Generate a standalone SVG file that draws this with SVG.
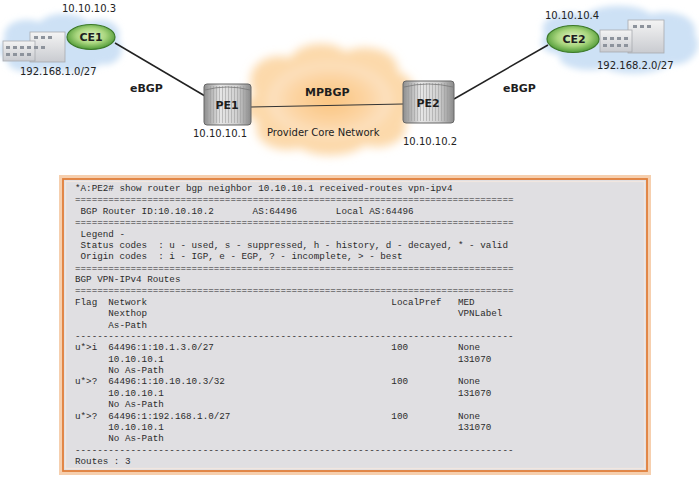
<svg xmlns="http://www.w3.org/2000/svg" width="699" height="479" viewBox="0 0 699 479">
<defs>
<style>
.lbl{font-family:"DejaVu Sans",Verdana,sans-serif;font-size:10px;fill:#222}
.bold{font-family:"DejaVu Sans",Verdana,sans-serif;font-size:11px;font-weight:bold;fill:#1e1e1e}
.term{font-family:"Liberation Mono","Courier New",monospace;font-size:9.25px;fill:#2b2b2b}
.conn{stroke:#222;stroke-width:1.5;fill:none}
.win{fill:#8d939c}
</style>
<filter id="blur" x="-20%" y="-20%" width="140%" height="140%"><feGaussianBlur stdDeviation="3"/></filter>
<filter id="blur2" x="-20%" y="-20%" width="140%" height="140%"><feGaussianBlur stdDeviation="5"/></filter>
<radialGradient id="green" cx="50%" cy="45%" r="55%">
<stop offset="0" stop-color="#e3f5c8"/><stop offset="0.55" stop-color="#a9d67e"/><stop offset="1" stop-color="#4f9a37"/>
</radialGradient>
<radialGradient id="peach" cx="50%" cy="50%" r="50%">
<stop offset="0" stop-color="#fbc47f"/><stop offset="0.6" stop-color="#fcd4a2"/><stop offset="1" stop-color="#fde3c4"/>
</radialGradient>
<linearGradient id="metal" x1="0" y1="0" x2="1" y2="0">
<stop offset="0" stop-color="#8e8e8e"/><stop offset="0.35" stop-color="#e6e6e6"/><stop offset="0.7" stop-color="#d0d0d0"/><stop offset="1" stop-color="#8a8a8a"/>
</linearGradient>
<pattern id="stripes" width="3" height="10" patternUnits="userSpaceOnUse">
<rect width="1" height="10" fill="#9b9b9b" opacity="0.55"/>
</pattern>
<linearGradient id="bld" x1="0" y1="0" x2="0" y2="1">
<stop offset="0" stop-color="#f4f4f4"/><stop offset="1" stop-color="#c9cbd0"/>
</linearGradient>
</defs>
<rect width="699" height="479" fill="#ffffff"/>

<g id="core-cloud">
<g filter="url(#blur2)">
<path fill="#fcd9ab" d="M255 95 C240 70 265 50 290 58 C300 40 335 40 345 52 C365 42 400 50 398 72 C420 78 420 110 405 120 C412 140 385 152 365 145 C350 158 315 158 300 148 C275 155 250 140 258 122 C240 115 242 100 255 95 Z"/>
<ellipse cx="330" cy="100" rx="62" ry="38" fill="url(#peach)"/>
</g>
<text class="bold" x="305" y="96">MPBGP</text>
<text class="lbl" x="267" y="136" fill="#333">Provider Core Network</text>
</g>

<g id="site1">
<g filter="url(#blur)" fill="#cde1f5">
<path d="M5 40 C0 25 20 15 40 22 C50 10 80 12 88 22 C105 15 125 25 118 40 C128 50 118 68 100 64 C90 75 60 74 50 68 C35 76 5 72 8 60 C-5 55 -2 45 5 40 Z"/>
</g>
<rect x="30" y="32" width="35" height="30" fill="url(#bld)" stroke="#a8abb0" stroke-width="0.8"/>
<rect x="3" y="41" width="32" height="20" fill="url(#bld)" stroke="#a8abb0" stroke-width="0.8"/>
<rect x="34" y="36" width="4" height="3" class="win"/><rect x="41" y="36" width="4" height="3" class="win"/><rect x="48" y="36" width="4" height="3" class="win"/>
<rect x="6" y="46" width="4" height="3" class="win"/><rect x="13" y="46" width="4" height="3" class="win"/><rect x="20" y="46" width="4" height="3" class="win"/><rect x="27" y="46" width="4" height="3" class="win"/>
<rect x="6" y="53" width="4" height="3" class="win"/><rect x="13" y="53" width="4" height="3" class="win"/><rect x="20" y="53" width="4" height="3" class="win"/><rect x="27" y="53" width="4" height="3" class="win"/>
<rect x="34" y="46" width="4" height="3" class="win"/><rect x="41" y="46" width="4" height="3" class="win"/>
<text class="lbl" x="20" y="75">192.168.1.0/27</text>
</g>

<g id="CE1">
<ellipse cx="91" cy="37" rx="24" ry="12.5" fill="url(#green)" stroke="#3d7a2a" stroke-width="1.2"/>
<text class="bold" x="91" y="41" text-anchor="middle">CE1</text>
<text class="lbl" x="62" y="12">10.10.10.3</text>
</g>

<g id="site2">
<g filter="url(#blur)" fill="#cde1f5">
<path d="M545 35 C535 20 560 8 585 15 C600 2 640 4 650 14 C675 8 699 18 695 35 C705 48 690 68 670 64 C655 76 620 76 605 68 C585 74 555 66 560 55 C540 52 538 42 545 35 Z"/>
</g>
<rect x="628" y="20" width="36" height="33" fill="url(#bld)" stroke="#a8abb0" stroke-width="0.8"/>
<rect x="600" y="30" width="32" height="22" fill="url(#bld)" stroke="#a8abb0" stroke-width="0.8"/>
<rect x="603" y="37" width="4" height="3" class="win"/><rect x="610" y="37" width="4" height="3" class="win"/><rect x="617" y="37" width="4" height="3" class="win"/><rect x="624" y="37" width="4" height="3" class="win"/>
<rect x="603" y="44" width="4" height="3" class="win"/><rect x="610" y="44" width="4" height="3" class="win"/><rect x="617" y="44" width="4" height="3" class="win"/><rect x="624" y="44" width="4" height="3" class="win"/>
<rect x="633" y="25" width="4" height="3" class="win"/><rect x="640" y="25" width="4" height="3" class="win"/><rect x="647" y="25" width="4" height="3" class="win"/>
<text class="lbl" x="597" y="69">192.168.2.0/27</text>
</g>

<g id="CE2">
<ellipse cx="573" cy="39" rx="26" ry="13.5" fill="url(#green)" stroke="#3d7a2a" stroke-width="1.2"/>
<text class="bold" x="574" y="43" text-anchor="middle">CE2</text>
<text class="lbl" x="545" y="19">10.10.10.4</text>
</g>

<g id="connectors">
<line class="conn" x1="115" y1="43" x2="205" y2="96"/>
<line x1="251" y1="107" x2="403" y2="104" stroke="#333" stroke-width="1"/>
<line class="conn" x1="454" y1="99" x2="548" y2="45"/>
<text class="bold" x="130" y="92">eBGP</text>
<text class="bold" x="503" y="92">eBGP</text>
</g>

<g id="PE1">
<rect x="204" y="84" width="47" height="41" rx="3" fill="url(#metal)" stroke="#666" stroke-width="1"/>
<rect x="206" y="86" width="43" height="37" fill="url(#stripes)"/>
<path d="M205 90 Q227 84 250 90" fill="none" stroke="#777" stroke-width="0.8"/>
<text class="bold" x="227" y="109" text-anchor="middle">PE1</text>
<text class="lbl" x="193" y="137">10.10.10.1</text>
</g>

<g id="PE2">
<rect x="403" y="81" width="51" height="42" rx="3" fill="url(#metal)" stroke="#666" stroke-width="1"/>
<rect x="405" y="83" width="47" height="38" fill="url(#stripes)"/>
<path d="M404 87 Q428 81 453 87" fill="none" stroke="#777" stroke-width="0.8"/>
<text class="bold" x="428" y="107" text-anchor="middle">PE2</text>
<text class="lbl" x="403" y="145">10.10.10.2</text>
</g>

<g id="terminal">
<rect x="61" y="177" width="588" height="296" fill="none" stroke="#f6cfae" stroke-width="4"/>
<rect x="63" y="179" width="584" height="292" fill="#e0dfe2" stroke="#e07e3a" stroke-width="1.8"/>
<rect x="65.5" y="181.5" width="579" height="287" fill="none" stroke="#f1e6e0" stroke-width="1.2"/>
<g class="term">
<text x="75" y="191">*A:PE2# show router bgp neighbor 10.10.10.1 received-routes vpn-ipv4</text>
<text x="75" y="202.4">===============================================================================</text>
<text y="213.8"><tspan x="80.55">BGP Router ID:10.10.10.2</tspan><tspan x="252.6">AS:64496</tspan><tspan x="335.85">Local AS:64496</tspan></text>
<text x="75" y="225.1">===============================================================================</text>
<text x="80.55" y="236.5">Legend -</text>
<text y="247.9"><tspan x="80.55">Status codes</tspan><tspan x="158.25">: u - used, s - suppressed, h - history, d - decayed, * - valid</tspan></text>
<text y="259.3"><tspan x="80.55">Origin codes</tspan><tspan x="158.25">: i - IGP, e - EGP, ? - incomplete, &gt; - best</tspan></text>
<text x="75" y="270.6">===============================================================================</text>
<text x="75" y="282">BGP VPN-IPv4 Routes</text>
<text x="75" y="293.4">===============================================================================</text>
<text y="304.8"><tspan x="75">Flag</tspan><tspan x="108.3">Network</tspan><tspan x="391.35">LocalPref</tspan><tspan x="457.95">MED</tspan></text>
<text y="316.1"><tspan x="108.3">Nexthop</tspan><tspan x="457.95">VPNLabel</tspan></text>
<text x="108.3" y="327.5">As-Path</text>
<text x="75" y="338.9">-------------------------------------------------------------------------------</text>
<text y="350.3"><tspan x="75">u*&gt;i</tspan><tspan x="108.3">64496:1:10.1.3.0/27</tspan><tspan x="391.35">100</tspan><tspan x="457.95">None</tspan></text>
<text y="361.6"><tspan x="108.3">10.10.10.1</tspan><tspan x="457.95">131070</tspan></text>
<text x="108.3" y="373">No As-Path</text>
<text y="384.4"><tspan x="75">u*&gt;?</tspan><tspan x="108.3">64496:1:10.10.10.3/32</tspan><tspan x="391.35">100</tspan><tspan x="457.95">None</tspan></text>
<text y="395.8"><tspan x="108.3">10.10.10.1</tspan><tspan x="457.95">131070</tspan></text>
<text x="108.3" y="407.1">No As-Path</text>
<text y="418.5"><tspan x="75">u*&gt;?</tspan><tspan x="108.3">64496:1:192.168.1.0/27</tspan><tspan x="391.35">100</tspan><tspan x="457.95">None</tspan></text>
<text y="429.9"><tspan x="108.3">10.10.10.1</tspan><tspan x="457.95">131070</tspan></text>
<text x="108.3" y="441.3">No As-Path</text>
<text x="75" y="452.6">-------------------------------------------------------------------------------</text>
<text x="75" y="464">Routes : 3</text>
</g>
</g>
</svg>
